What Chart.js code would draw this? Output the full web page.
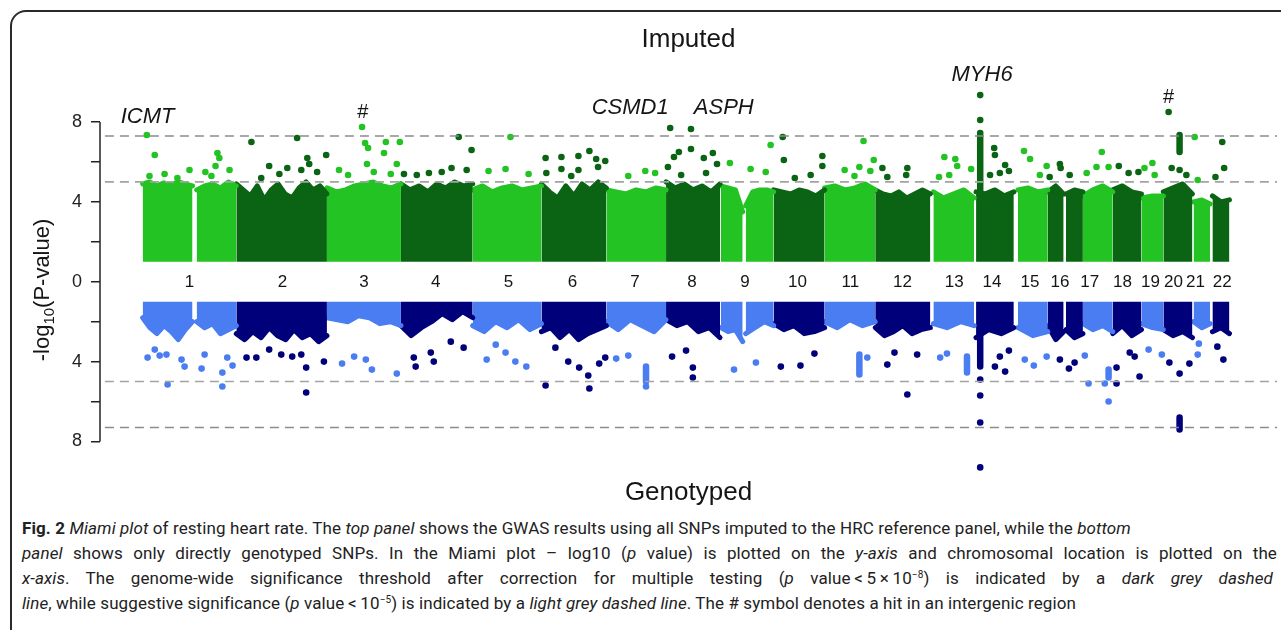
<!DOCTYPE html>
<html>
<head>
<meta charset="utf-8">
<title>Miami plot of resting heart rate</title>
<script src="https://cdn.jsdelivr.net/npm/chart.js@4.4.1/dist/chart.umd.min.js"></script>
<style>
  html, body { margin: 0; padding: 0; background: #fff; }
  body { width: 1281px; height: 630px; overflow: hidden; position: relative; }
  .frame { position: absolute; left: 10px; top: 10px; width: 1300px; height: 660px;
           border: 2px solid #2a2a2a; border-radius: 16px; box-sizing: border-box; }
  #miami { position: absolute; left: 0; top: 0; }
  .caption { position: absolute; left: 22px; top: 516px; width: 1255px;
             font: 17px Roboto, "Open Sans", sans-serif; line-height: 25px; color: #222;
             letter-spacing: 0.1px; }
  .caption div { white-space: nowrap; }
  .caption .j { text-align: justify; text-align-last: justify; }
  .caption sup { font-size: 10px; line-height: 0; vertical-align: 6px; }
</style>
</head>
<body>
<div class="frame"></div>
<canvas id="miami" width="1281" height="515"></canvas>
<div class="caption">
  <div><b>Fig. 2</b> <i>Miami plot</i> of resting heart rate. The <i>top panel</i> shows the GWAS results using all SNPs imputed to the HRC reference panel, while the <i>bottom</i></div>
  <div class="j"><i>panel</i> shows only directly genotyped SNPs. In the Miami plot – log10 (<i>p</i> value) is plotted on the <i>y-axis</i> and chromosomal location is plotted on the</div>
  <div class="j" style="margin-right:4px"><i>x-axis</i>. The genome-wide significance threshold after correction for multiple testing (<i>p</i> value&thinsp;&lt;&thinsp;5&thinsp;×&thinsp;10<sup>−8</sup>) is indicated by a <i>dark grey dashed</i></div>
  <div><i>line</i>, while suggestive significance (<i>p</i> value&thinsp;&lt;&thinsp;10<sup>−5</sup>) is indicated by a <i>light grey dashed line</i>. The # symbol denotes a hit in an intergenic region</div>
</div>
<script>
// chromosome labels and where they sit (cumulative Mb)
const chrNames = ['1','2','3','4','5','6','7','8','9','10','11','12','13','14','15','16','17','18','19','20','21','22'];
const chrLabelPos = [124, 370, 586, 776, 969, 1138, 1304, 1455, 1595, 1734, 1874, 2012, 2149, 2249, 2350, 2429, 2508, 2595, 2669, 2730, 2788, 2859];

// dense SNP blocks (cumulative Mb), split at centromere gaps
const blockChr  = [1, 1, 2, 3, 4, 5, 6, 7, 8, 9, 9, 10, 11, 12, 13, 14, 15, 16, 16, 17, 18, 19, 20, 21, 22];
const blockFrom = [0, 143, 248, 488, 684, 874, 1056, 1228, 1386, 1531, 1597, 1671, 1806, 1940, 2094, 2207, 2318, 2397, 2445, 2490, 2569, 2645, 2703, 2783, 2833];
const blockTo   = [132, 248, 488, 684, 874, 1056, 1228, 1386, 1529, 1589, 1671, 1806, 1940, 2086, 2202, 2307, 2397, 2439, 2490, 2569, 2645, 2703, 2780, 2827, 2878];

// upper edge of the dense cloud, -log10(p), sampled across each block
const imputedEdge = [
  [4.9, 5.0, 4.8, 4.95, 4.85, 5.0, 4.9, 4.8],
  [4.6, 4.8, 4.9, 4.7, 5.0, 4.8],
  [4.9, 4.6, 4.3, 4.8, 4.1, 4.6, 4.9, 4.4, 4.2, 4.7, 5.0, 4.6, 4.8, 4.4],
  [4.7, 4.5, 4.6, 4.8, 4.9, 5.0, 4.8, 4.7, 4.9],
  [4.9, 4.6, 4.8, 4.5, 4.9, 4.7, 5.0, 4.8, 4.9],
  [4.6, 4.8, 4.5, 4.7, 4.8, 4.6, 4.7, 4.8],
  [4.9, 4.5, 4.2, 4.8, 4.3, 4.9, 4.6, 5.0, 4.7],
  [4.6, 4.5, 4.4, 4.6, 4.5, 4.7, 4.6],
  [5.0, 4.7, 4.9, 4.6, 4.8, 4.5, 4.9],
  [4.8, 4.7, 4.6, 3.5],
  [3.8, 4.5, 4.6, 4.6, 4.5],
  [4.6, 4.5, 4.4, 4.6, 4.5, 4.3, 4.6],
  [4.7, 4.8, 4.6, 4.7, 4.9, 4.6],
  [4.6, 4.4, 4.3, 4.5, 4.2, 4.4, 4.6, 4.4],
  [4.5, 4.2, 4.4, 4.6, 4.2],
  [4.5, 4.4, 4.6, 4.3, 4.5],
  [4.6, 4.7, 4.5, 4.6],
  [4.5, 4.8, 4.4],
  [4.4, 4.6, 4.5],
  [4.3, 4.6, 4.8, 4.5],
  [4.6, 4.8, 4.5, 4.4],
  [4.2, 4.3, 4.3],
  [4.5, 4.7, 4.9, 4.4],
  [4.0, 4.1, 3.9],
  [4.3, 4.0, 4.1]
];
const genotypedEdge = [
  [1.8, 2.3, 2.6, 2.2, 2.5, 2.9, 2.4, 2.0],
  [2.0, 2.3, 2.1, 2.6, 2.4, 2.2],
  [2.6, 2.9, 2.5, 2.8, 2.3, 2.7, 2.9, 2.4, 2.8, 2.6, 3.0, 2.7],
  [1.8, 1.9, 2.0, 1.7, 1.8, 2.1, 2.0, 2.2],
  [2.2, 2.7, 2.3, 2.0, 1.6, 1.9, 1.5, 1.8],
  [2.2, 2.5, 2.0, 2.3, 1.9, 2.4, 2.1],
  [2.5, 2.3, 2.8, 2.4, 2.9, 2.6, 2.4, 2.2],
  [2.0, 2.4, 1.9, 2.2, 2.5, 1.9],
  [1.9, 2.2, 2.0, 2.5, 2.3, 2.8],
  [2.3, 2.5, 2.4, 3.0],
  [2.6, 2.3, 2.0, 2.2],
  [2.1, 2.4, 2.2, 2.6, 2.5, 2.3],
  [2.0, 2.3, 1.9, 2.2, 2.0],
  [2.3, 2.7, 2.5, 2.2, 2.6, 2.4, 2.3],
  [2.1, 2.3, 2.0, 2.2],
  [2.8, 2.4, 2.6, 2.3],
  [2.3, 2.7, 2.5],
  [2.2, 2.9, 2.5],
  [2.4, 2.8, 2.6],
  [2.1, 2.4, 2.2, 2.5],
  [2.6, 2.2, 2.7, 2.4],
  [2.1, 2.3, 2.4],
  [2.4, 2.7, 2.5, 2.8],
  [2.0, 2.3, 2.1],
  [2.5, 2.3, 2.6]
];

// individual SNPs standing out of the cloud: [chromosome, cumulative Mb, -log10(p)]
const imputedHits = [
  [1,11,7.35],[1,32,6.35],[1,18,5.3],[1,58,5.4],[1,92,5.2],[1,124,5.6],[1,166,5.5],[1,198,6.45],[1,203,6.2],[1,193,5.8],[1,230,5.6],[1,182,5.3],
  [2,288,7.0],[2,409,7.2],[2,486,6.35],[2,335,5.8],[2,383,5.7],[2,420,5.6],[2,436,6.2],[2,441,5.9],[2,462,5.5],[2,314,5.2],[2,362,5.4],
  [3,581,7.75],[3,589,6.95],[3,597,6.7],[3,644,7.0],[3,639,6.45],[3,681,7.0],[3,520,5.6],[3,544,5.35],[3,594,5.9],[3,612,5.5],[3,657,5.4],[3,673,5.9],
  [4,837,7.25],[4,871,6.6],[4,692,5.4],[4,726,5.35],[4,758,5.45],[4,792,5.5],[4,818,5.7],[4,858,5.6],
  [5,974,7.25],[5,961,5.65],[5,916,5.55],[5,1022,5.4],
  [6,1067,6.2],[6,1109,6.25],[6,1154,6.3],[6,1183,6.55],[6,1201,6.15],[6,1225,6.05],[6,1109,5.65],[6,1154,5.6],[6,1206,5.75],[6,1069,5.45],[6,1135,5.3],
  [7,1286,5.3],[7,1331,5.55],[7,1357,5.45],
  [8,1397,7.7],[8,1452,7.65],[8,1420,6.5],[8,1407,6.25],[8,1452,6.65],[8,1486,6.2],[8,1510,6.45],[8,1521,5.9],[8,1391,5.75],[8,1426,5.35],[8,1492,5.45],
  [9,1555,5.95],[9,1610,5.65],[9,1650,5.5],[9,1663,6.85],
  [10,1695,7.25],[10,1698,6.1],[10,1800,6.3],[10,1800,5.8],[10,1727,5.2],[10,1769,5.35],
  [11,1909,7.05],[11,1936,6.1],[11,1898,5.75],[11,1927,5.55],[11,1859,5.6],[11,1885,5.3],
  [12,1959,5.7],[12,2025,5.7],[12,2022,5.35],[12,1972,5.25],
  [13,2123,6.25],[13,2152,6.15],[13,2157,5.8],[13,2194,5.65],[13,2109,5.25],[13,2136,5.35],
  [14,2218,9.35],[14,2218,8.1],[14,2218,7.45],[14,2255,6.7],[14,2257,6.35],[14,2284,5.85],[14,2270,5.45],[14,2244,5.35],[14,2294,5.55],
  [15,2334,6.55],[15,2350,6.15],[15,2394,5.8],[15,2376,5.35],
  [16,2429,5.9],[16,2431,5.7],[16,2455,5.35],[16,2402,5.25],
  [17,2540,6.5],[17,2526,5.75],[17,2558,5.75],[17,2500,5.45],
  [18,2585,5.8],[18,2611,5.45],[18,2637,5.5],
  [19,2674,5.95],[19,2680,5.35],[19,2653,5.7],
  [20,2717,8.5],[20,2725,5.7],[20,2746,5.6],[20,2764,5.35],
  [21,2786,7.25],[21,2794,5.1],
  [22,2859,7.0],[22,2864,5.7],[22,2841,5.25]
];
const genotypedHits = [
  [1,66,5.15],[1,13,3.8],[1,63,3.65],[1,103,3.9],[1,111,4.25],[1,156,4.35],[1,164,3.65],[1,211,4.55],[1,211,5.25],[1,238,4.2],[1,224,3.8],[1,32,3.4],[1,45,3.7],
  [2,275,3.8],[2,301,3.8],[2,367,3.65],[2,396,3.75],[2,420,3.65],[2,433,4.3],[2,433,5.55],[2,480,4.0],[2,335,3.4],
  [3,528,4.1],[3,560,3.75],[3,607,4.4],[3,673,4.6],[3,591,3.9],
  [4,723,4.25],[4,763,3.55],[4,771,4.0],[4,816,3.0],[4,850,3.3],[4,718,3.8],
  [5,911,3.9],[5,961,3.55],[5,987,4.0],[5,1016,4.25],[5,935,3.15],
  [6,1067,5.2],[6,1183,5.35],[6,1180,4.7],[6,1156,4.3],[6,1209,4.1],[6,1225,3.8],[6,1127,4.0],[6,1093,3.3],
  [7,1333,5.25],[7,1286,3.7],[7,1254,3.85],
  [8,1457,4.8],[8,1457,4.3],[8,1402,3.75],[8,1439,3.45],
  [9,1566,4.4],[9,1624,4.05],
  [10,1690,4.25],[10,1742,4.2],[10,1779,3.6],
  [11,1919,3.8],
  [12,2025,5.65],[12,1972,4.15],[12,1991,3.55],[12,2051,3.65],
  [13,2112,3.8],[13,2130,3.6],
  [14,2218,4.9],[14,2218,5.7],[14,2218,7.05],[14,2218,9.3],[14,2257,4.25],[14,2284,4.5],[14,2294,3.45],[14,2270,3.75],
  [15,2336,3.9],[15,2360,4.2],[15,2394,3.75],
  [16,2429,3.9],[16,2453,4.35],[16,2468,4.05],
  [17,2505,5.1],[17,2548,5.1],[17,2558,6.0],[17,2495,3.7],
  [18,2579,4.3],[18,2579,5.1],[18,2640,4.75],[18,2614,3.55],[18,2627,3.75],
  [19,2664,3.4],[19,2699,3.65],
  [20,2719,4.05],[20,2746,4.6],[20,2772,4.1],
  [21,2794,3.65],[21,2797,3.1],
  [22,2846,3.25],[22,2862,3.9]
];

// tightly stacked runs of SNPs: [chromosome, cumulative Mb, from, to]
const imputedColumns = [[14, 2218, 4.5, 7.3], [20, 2746, 6.5, 7.35]];
const genotypedColumns = [[7, 1333, 4.25, 5.0], [11, 1898, 3.65, 4.65], [13, 2183, 3.75, 4.55], [14, 2218, 2.0, 4.25], [17, 2558, 4.4, 4.8], [20, 2746, 6.8, 7.4]];

// significance thresholds: genome-wide (5e-8) and suggestive (1e-5)
const thresholds = [7.3, 5];
const thresholdColors = ['#8c8c8c', '#a3a3a3'];

// gene annotations over the top panel
const geneLabels = ['ICMT', '#', 'CSMD1', 'ASPH', 'MYH6', '#'];
const geneX = [13, 583, 1291, 1539, 2223, 2717];
const geneY = [8.25, 8.5, 8.7, 8.7, 10.35, 9.25];

const yTicks = [-8, -6, -4, -2, 0, 2, 4, 6, 8];
const axisSpan = [-8, 8];

const colors = {
  imputed: ['#22c322', '#0b6414'],    // odd, even chromosome
  genotyped: ['#4a7df2', '#00007a']
};
const shade = (panel, chr) => colors[panel][chr % 2 === 1 ? 0 : 1];

const datasets = [];

thresholds.forEach((t, i) => {
  [t, -t].forEach(v => datasets.push({
    type: 'line', data: [{x: -100, y: v}, {x: 3004, y: v}],
    borderColor: thresholdColors[i], borderWidth: 1.6, borderDash: [9, 6],
    pointRadius: 0, fill: false, order: 0
  }));
});

function addBands(panel, edges, sign) {
  edges.forEach((edge, b) => {
    const from = blockFrom[b], to = blockTo[b];
    const col = shade(panel, blockChr[b]);
    datasets.push({
      type: 'line',
      data: edge.map((v, i) => ({x: from + (to - from) * i / (edge.length - 1), y: sign * v})),
      borderColor: col, backgroundColor: col, borderWidth: 5,
      borderJoinStyle: 'round', borderCapStyle: 'round',
      pointRadius: 0, fill: {value: sign * 1}, order: 3
    });
  });
}
addBands('imputed', imputedEdge, 1);
addBands('genotyped', genotypedEdge, -1);

function addColumns(panel, cols, sign) {
  cols.forEach(([chr, x, lo, hi]) => datasets.push({
    type: 'line', data: [{x, y: sign * lo}, {x, y: sign * hi}],
    borderColor: shade(panel, chr), borderWidth: 6.5, borderCapStyle: 'round',
    pointRadius: 0, fill: false, order: 2
  }));
}
addColumns('imputed', imputedColumns, 1);
addColumns('genotyped', genotypedColumns, -1);

function addHits(panel, hits, sign) {
  [1, 0].forEach(odd => {
    const col = colors[panel][odd ? 0 : 1];
    datasets.push({
      type: 'line', showLine: false,
      data: hits.filter(h => h[0] % 2 === odd).map(h => ({x: h[1], y: sign * h[2]})),
      pointRadius: 3.3, pointBorderWidth: 0, pointBackgroundColor: col, borderColor: col,
      order: 1
    });
  });
}
addHits('imputed', imputedHits, 1);
addHits('genotyped', genotypedHits, -1);

const FONT = "'Liberation Sans', Arial, sans-serif";
Chart.defaults.font.family = FONT;

const annotations = {
  id: 'annotations',
  afterDraw(chart) {
    const {ctx, chartArea, scales: {x, y}} = chart;
    ctx.save();

    // R-style axis line: only across the labelled range
    ctx.strokeStyle = '#222';
    ctx.lineWidth = 1.5;
    ctx.beginPath();
    ctx.moveTo(chartArea.left, y.getPixelForValue(axisSpan[1]));
    ctx.lineTo(chartArea.left, y.getPixelForValue(axisSpan[0]));
    ctx.stroke();

    ctx.fillStyle = '#151515';
    ctx.textAlign = 'center';
    ctx.textBaseline = 'middle';
    geneLabels.forEach((g, i) => {
      ctx.font = (g === '#' ? '20px ' : 'italic 22px ') + FONT;
      ctx.fillText(g, x.getPixelForValue(geneX[i]), y.getPixelForValue(geneY[i]));
    });

    // y axis title with subscript
    ctx.translate(41, 290);
    ctx.rotate(-Math.PI / 2);
    ctx.textAlign = 'left';
    ctx.textBaseline = 'alphabetic';
    const big = '22px ' + FONT, small = '15px ' + FONT;
    ctx.font = big;
    const w1 = ctx.measureText('-log').width, w3 = ctx.measureText('(P-value)').width;
    ctx.font = small;
    const w2 = ctx.measureText('10').width;
    let cx = -(w1 + w2 + w3) / 2;
    ctx.font = big;
    ctx.fillText('-log', cx, 8); cx += w1;
    ctx.font = small;
    ctx.fillText('10', cx, 13); cx += w2;
    ctx.font = big;
    ctx.fillText('(P-value)', cx, 8);
    ctx.restore();
  }
};

new Chart(document.getElementById('miami'), {
  type: 'line',
  data: {datasets},
  plugins: [annotations],
  options: {
    responsive: false,
    animation: false,
    devicePixelRatio: 1,
    layout: {padding: 0},
    plugins: {
      legend: {display: false},
      tooltip: {enabled: false},
      title: {
        display: true, text: 'Imputed', color: '#151515', fullSize: false,
        font: {size: 26, weight: 'normal'}, padding: {top: 24.4, bottom: 26.5}
      },
      subtitle: {
        display: true, position: 'bottom', text: 'Genotyped', color: '#151515', fullSize: false,
        font: {size: 26}, padding: {top: 4.0, bottom: 6.4}
      }
    },
    scales: {
      x: {
        type: 'linear', min: -113, max: 3004,
        position: {y: 0.5},
        grid: {display: false, drawTicks: false},
        border: {display: false},
        afterBuildTicks: s => { s.ticks = chrLabelPos.map(v => ({value: v})); },
        ticks: {
          autoSkip: false, maxRotation: 0, padding: 0, color: '#151515',
          font: {size: 17}, callback: (v, i) => chrNames[i]
        }
      },
      y: {
        min: -9.6, max: 10,
        afterFit: s => { s.width = 100; },
        afterBuildTicks: s => { s.ticks = yTicks.map(v => ({value: v})); },
        ticks: {
          padding: 9, color: '#222', font: {size: 18},
          callback: v => (v % 4 === 0 ? String(Math.abs(v)) : '')
        },
        grid: {drawOnChartArea: false, tickLength: 9, color: '#222', lineWidth: 1.5},
        border: {display: false}
      }
    }
  }
});
</script>
</body>
</html>
